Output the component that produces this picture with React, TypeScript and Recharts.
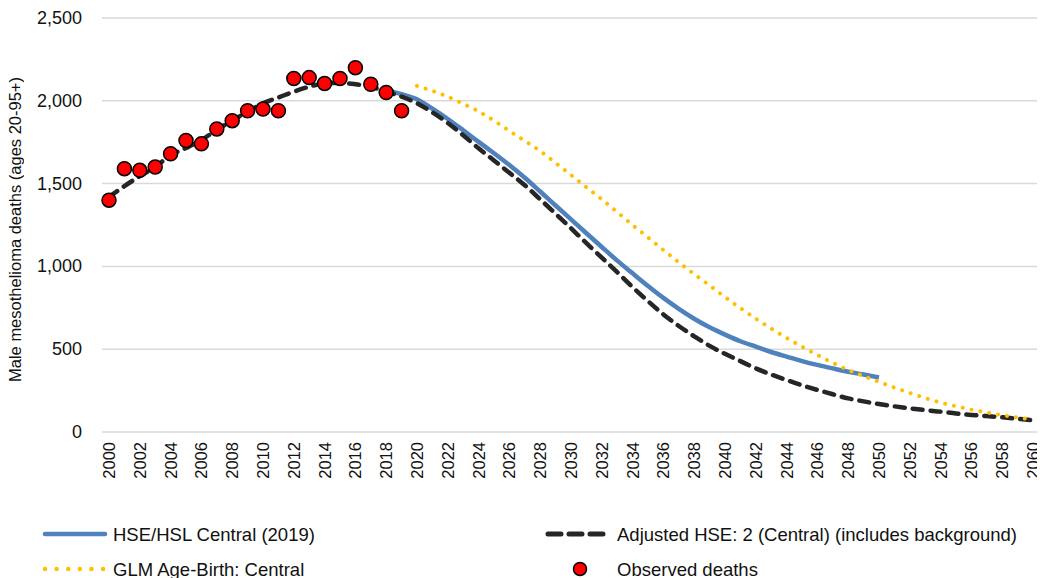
import React from "react";
import {
  ComposedChart,
  Line,
  Scatter,
  XAxis,
  YAxis,
  CartesianGrid,
} from "recharts";

// ---- Data ----
const firstYear = 2000;
const lastYear = 2060;

const observedStart = 2000;
const observedDeaths = [
  1400, 1590, 1580, 1600, 1680, 1760, 1740, 1830, 1880, 1940, 1950, 1940,
  2135, 2140, 2105, 2135, 2200, 2100, 2050, 1940,
];

const hseStart = 2018;
const hseCentral2019 = [
  2062, 2040, 2009, 1952, 1890, 1822, 1752, 1683, 1612, 1535, 1452, 1368,
  1284, 1200, 1117, 1035, 958, 882, 810, 744, 684, 632, 588, 548, 515, 483,
  455, 428, 405, 384, 364, 347, 330,
];

const adjustedStart = 2000;
const adjustedHse = [
  1420, 1485, 1545, 1600, 1672, 1715, 1763, 1825, 1880, 1935, 1985, 2020,
  2055, 2085, 2105, 2108, 2100, 2085, 2055, 2025, 1985, 1930, 1866, 1792,
  1713, 1640, 1565, 1490, 1405, 1318, 1230, 1140, 1053, 965, 875, 790, 710,
  640, 578, 520, 472, 428, 384, 347, 314, 282, 254, 228, 203, 185, 169, 155,
  143, 132, 123, 112, 103, 96, 89, 80, 70,
];

const glmStart = 2020;
const glmAgeBirth = [
  2090, 2060, 2025, 1982, 1936, 1880, 1818, 1758, 1697, 1625, 1552, 1478,
  1405, 1328, 1250, 1175, 1099, 1025, 954, 885, 815, 748, 684, 625, 568, 515,
  465, 418, 375, 338, 303, 268, 236, 205, 178, 155, 135, 118, 102, 88, 75,
];

const xTicks = [
  2000, 2002, 2004, 2006, 2008, 2010, 2012, 2014, 2016, 2018, 2020, 2022,
  2024, 2026, 2028, 2030, 2032, 2034, 2036, 2038, 2040, 2042, 2044, 2046,
  2048, 2050, 2052, 2054, 2056, 2058, 2060,
];
const yTicks = [0, 500, 1000, 1500, 2000, 2500];

const yAxisTitle = "Male mesothelioma deaths (ages 20-95+)";

const seriesNames = {
  hse: "HSE/HSL Central (2019)",
  adjusted: "Adjusted HSE: 2 (Central) (includes background)",
  glm: "GLM Age-Birth: Central",
  observed: "Observed deaths",
};

// ---- Build table ----
const pick = (arr: number[], start: number, y: number) => {
  const i = y - start;
  return i >= 0 && i < arr.length ? arr[i] : null;
};

const years: number[] = [];
for (let y = firstYear; y <= lastYear; y++) years.push(y);

const tableData = years.map((year) => ({
  year,
  hse: pick(hseCentral2019, hseStart, year),
  adjusted: pick(adjustedHse, adjustedStart, year),
  glm: pick(glmAgeBirth, glmStart, year),
}));

const observedData = observedDeaths.map((v, i) => ({
  year: observedStart + i,
  observed: v,
}));

// ---- Styles ----
const FONT = "'Liberation Sans', Arial, sans-serif";
const TEXT = "#111";
const BLUE = "#4F81BD";
const BLACK = "#262626";
const GOLD = "#FFC000";
const RED = "#FF0000";

const XTick = (props: any) => {
  const { x, y, payload } = props;
  return (
    <text
      x={x}
      y={y}
      transform={`rotate(-90, ${x}, ${y})`}
      textAnchor="end"
      dominantBaseline="central"
      fontFamily={FONT}
      fontSize={16.5}
      fill={TEXT}
    >
      {payload.value}
    </text>
  );
};

const YTick = (props: any) => {
  const { x, y, payload } = props;
  return (
    <text
      x={x}
      y={y}
      textAnchor="end"
      dominantBaseline="central"
      fontFamily={FONT}
      fontSize={18}
      fill={TEXT}
    >
      {Number(payload.value).toLocaleString("en-US")}
    </text>
  );
};

const Dot = (props: any) => {
  const { cx, cy } = props;
  if (cx == null || cy == null) return null;
  return <circle cx={cx} cy={cy} r={7} fill={RED} stroke="#000" strokeWidth={1.5} />;
};

const YTitleOverlay = () => (
  <div
    style={{
      position: "absolute",
      left: -1,
      top: 14,
      width: 16,
      height: 414,
      display: "flex",
      alignItems: "center",
      justifyContent: "center",
    }}
  >
    <span
      style={{
        writingMode: "vertical-rl",
        transform: "rotate(180deg)",
        fontFamily: FONT,
        fontSize: 16.5,
        lineHeight: "16px",
        color: TEXT,
        whiteSpace: "nowrap",
      }}
    >
      {yAxisTitle}
    </span>
  </div>
);

const LegendOverlay = () => (
  <svg
    width={1037}
    height={80}
    style={{ position: "absolute", left: 0, top: 492 }}
  >
    {/* row 1 */}
    <line x1={37} y1={34} x2={97} y2={34} stroke={BLUE} strokeWidth={4.5} strokeLinecap="round" />
    <text x={105} y={34} dominantBaseline="central" fontFamily={FONT} fontSize={18.5} fill={TEXT}>
      {seriesNames.hse}
    </text>
    <line
      x1={540}
      y1={34}
      x2={598}
      y2={34}
      stroke={BLACK}
      strokeWidth={5}
      strokeDasharray="13 8"
      strokeLinecap="round"
    />
    <text x={609} y={34} dominantBaseline="central" fontFamily={FONT} fontSize={18.5} fill={TEXT}>
      {seriesNames.adjusted}
    </text>
    {/* row 2 */}
    <line
      x1={37}
      y1={69}
      x2={96}
      y2={69}
      stroke={GOLD}
      strokeWidth={4.5}
      strokeDasharray="0.01 11.6"
      strokeLinecap="round"
    />
    <text x={105} y={69} dominantBaseline="central" fontFamily={FONT} fontSize={18.5} fill={TEXT}>
      {seriesNames.glm}
    </text>
    <circle cx={572} cy={69} r={6.5} fill={RED} stroke="#000" strokeWidth={1.5} />
    <text x={609} y={69} dominantBaseline="central" fontFamily={FONT} fontSize={18.5} fill={TEXT}>
      {seriesNames.observed}
    </text>
  </svg>
);

export default function App() {
  return (
    <div style={{ position: "relative", width: 1037, height: 570 }}>
      <ComposedChart
        width={1037}
        height={570}
        data={tableData}
        margin={{ top: 10, right: 5, bottom: 0, left: 0 }}
      >
        <CartesianGrid vertical={false} stroke="#d9d9d9" strokeWidth={1.5} />
        <XAxis
          dataKey="year"
          type="number"
          domain={[firstYear, lastYear]}
          ticks={xTicks}
          interval={0}
          padding={{ left: 7, right: 7 }}
          height={146}
          axisLine={false}
          tickLine={false}
          tickSize={0}
          tickMargin={10}
          tick={<XTick />}
        />
        <YAxis
          type="number"
          domain={[0, 2500]}
          ticks={yTicks}
          width={94}
          axisLine={false}
          tickLine={false}
          tickSize={0}
          tickMargin={20}
          tick={<YTick />}
        />
        <Line
          dataKey="hse"
          name={seriesNames.hse}
          type="monotone"
          stroke={BLUE}
          strokeWidth={4.5}
          dot={false}
          activeDot={false}
          isAnimationActive={false}
        />
        <Line
          dataKey="adjusted"
          name={seriesNames.adjusted}
          type="monotone"
          stroke={BLACK}
          strokeWidth={4.5}
          strokeDasharray="10 8"
          strokeLinecap="round"
          dot={false}
          activeDot={false}
          isAnimationActive={false}
        />
        <Line
          dataKey="glm"
          name={seriesNames.glm}
          type="monotone"
          stroke={GOLD}
          strokeWidth={4}
          strokeDasharray="0.01 9"
          strokeLinecap="round"
          dot={false}
          activeDot={false}
          isAnimationActive={false}
        />
        <Scatter
          data={observedData}
          dataKey="observed"
          name={seriesNames.observed}
          shape={<Dot />}
          isAnimationActive={false}
        />
      </ComposedChart>
      <YTitleOverlay />
      <LegendOverlay />
    </div>
  );
}
